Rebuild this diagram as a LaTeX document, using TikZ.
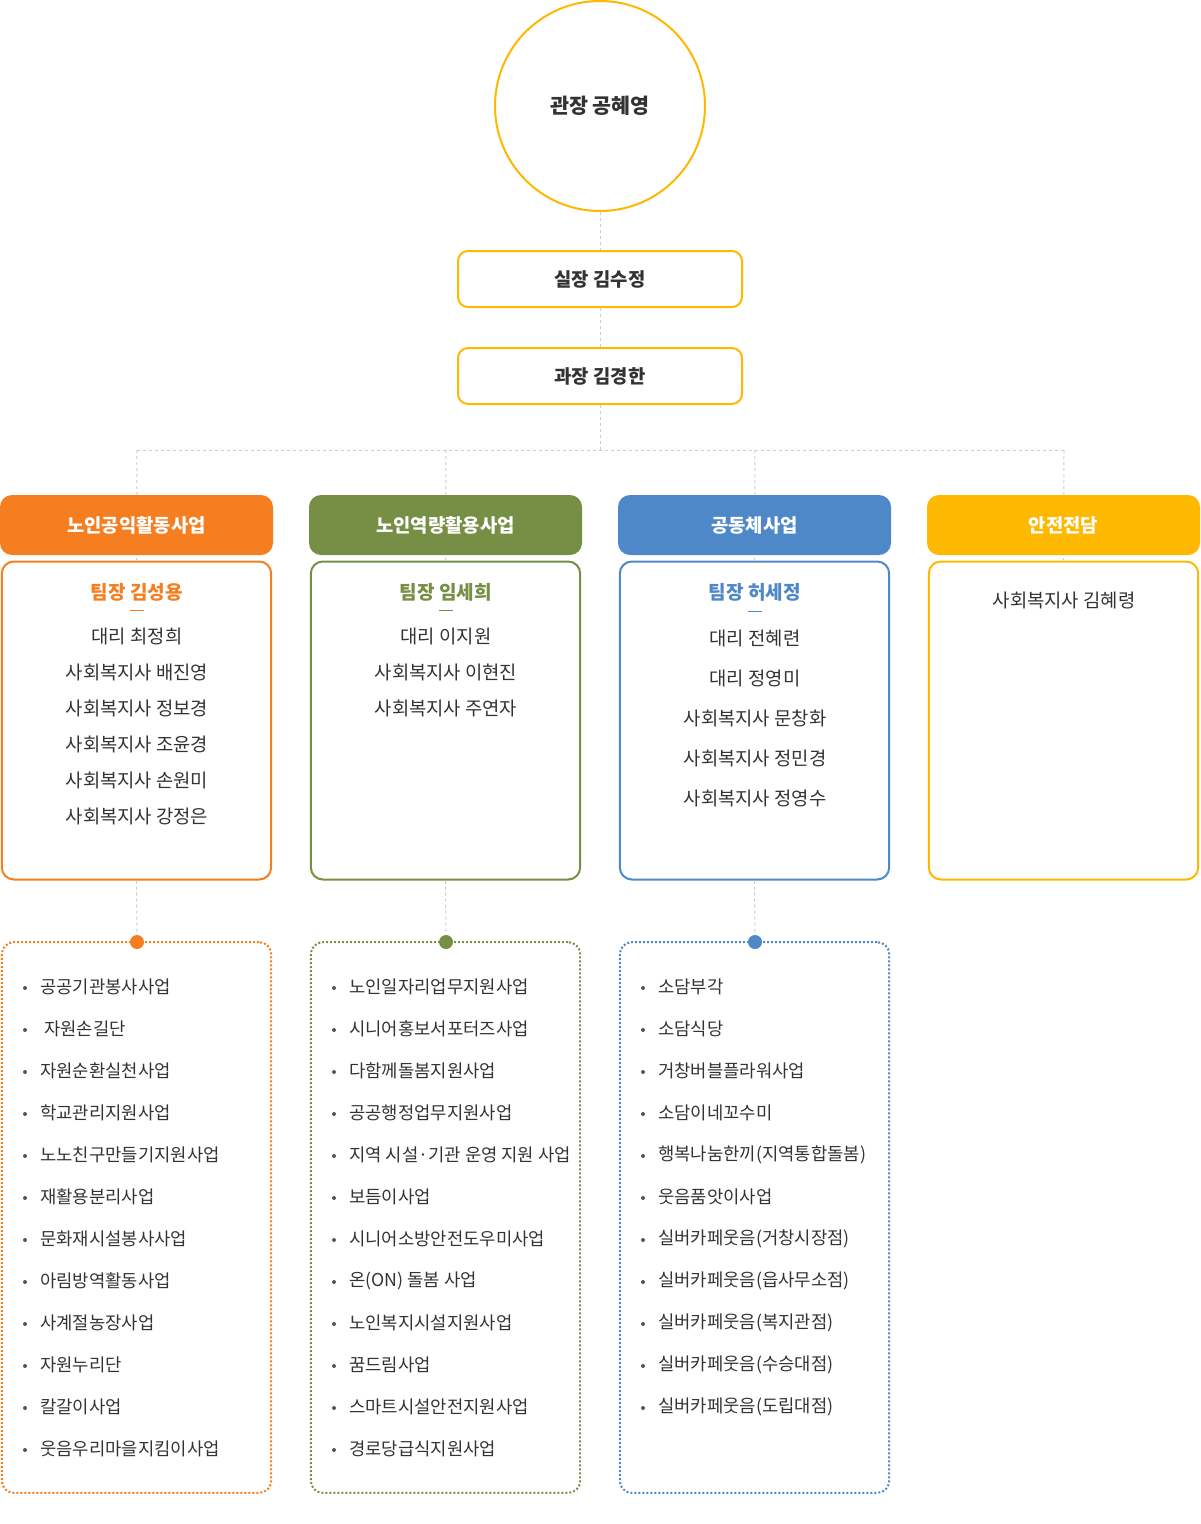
\documentclass[tikz,border=0pt]{standalone}
\usepackage{fontspec}
\setmainfont{Noto Sans CJK KR}
\definecolor{cyel}{HTML}{FFB800}
\definecolor{cora}{HTML}{F47E20}
\definecolor{cgrn}{HTML}{768F45}
\definecolor{cblu}{HTML}{4F88C8}
\definecolor{ctxt}{HTML}{333333}
\definecolor{cline}{HTML}{CCCCCC}
\definecolor{cbul}{HTML}{555555}
\begin{document}
\begin{tikzpicture}[x=0.75pt,y=-0.75pt,
  conn/.style={draw=cline,line width=0.75pt,dash pattern=on 2.25pt off 2.25pt},
  topbox/.style={draw=cyel,line width=1.5pt,rounded corners=7.5pt,fill=white,minimum width=213pt,minimum height=42pt,inner sep=0,text=ctxt,font=\fontsize{14.1pt}{16pt}\selectfont\bfseries},
  head/.style={fill=#1,rounded corners=9pt,minimum width=204.75pt,minimum height=45pt,inner sep=0,text=white,font=\fontsize{14.1pt}{16pt}\selectfont\bfseries},
  teambox/.style={draw=#1,line width=1.5pt,rounded corners=9pt,minimum width=202pt,minimum height=238.5pt,inner sep=0},
  listbox/.style={draw=#1,line width=1.5pt,dash pattern=on 1.5pt off 1.5pt,rounded corners=9pt,minimum width=202pt,minimum height=413pt,inner sep=0},
  dotn/.style={circle,fill=#1,inner sep=0,minimum size=10.5pt},
  ttl/.style={text=#1,inner sep=0,font=\fontsize{14.3pt}{16pt}\selectfont\bfseries},
  mem/.style={text=ctxt,inner sep=0,font=\fontsize{14.1pt}{16pt}\selectfont},
  item/.style={text=ctxt,inner sep=0,anchor=west,font=\fontsize{13.3pt}{15pt}\selectfont},
]
\useasboundingbox (0,0) rectangle (1200,1524);
% coordinates for connectors
\coordinate (hub) at (600,450);
\coordinate (h1) at (137,450);
\coordinate (h2) at (446,450);
\coordinate (h3) at (755,450);
\coordinate (h4) at (1064,450);
% top nodes
\node[circle,draw=cyel,line width=1.5pt,minimum size=157.5pt,inner sep=0,text=ctxt,font=\fontsize{15.5pt}{17pt}\selectfont\bfseries] (chief) at (600,106) {관장 공혜영};
\node[topbox] (sil) at (600,279) {실장 김수정};
\node[topbox] (gwa) at (600,376) {과장 김경한};
% team boxes
\node[teambox=cora] (t1) at (136.5,720.5) {};
\node[teambox=cgrn] (t2) at (445.5,720.5) {};
\node[teambox=cblu] (t3) at (754.5,720.5) {};
\node[teambox=cyel] (t4) at (1063.5,720.5) {};
% connectors
\draw[conn] (chief.south) -- (sil.north);
\draw[conn] (sil.south) -- (gwa.north);
\draw[conn] (gwa.south) -- (hub);
\draw[conn] (h1) -- (h4);
\draw[conn] (h1) -- (t1.north);
\draw[conn] (h2) -- (t2.north);
\draw[conn] (h3) -- (t3.north);
\draw[conn] (h4) -- (t4.north);
% headers
\node[head=cora] (hd1) at (136.5,525) {노인공익활동사업};
\node[head=cgrn] (hd2) at (445.5,525) {노인역량활용사업};
\node[head=cblu] (hd3) at (754.5,525) {공동체사업};
\node[head=cyel] (hd4) at (1063.5,525) {안전전담};
% team 1
\node[ttl=cora] (t1a) at (137,592) {팀장 김성용};
\draw[cora,line width=0.75pt] (130,610) -- (144,610);
\foreach [count=\i] \t in {대리 최정희,사회복지사 배진영,사회복지사 정보경,사회복지사 조윤경,사회복지사 손원미,사회복지사 강정은}
  \node[mem] (t1m\i) at ({137},{636+36*(\i-1)}) {\t};
% team 2
\node[ttl=cgrn] (t2a) at (446,592) {팀장 임세희};
\draw[cgrn,line width=0.75pt] (439,610) -- (453,610);
\foreach [count=\i] \t in {대리 이지원,사회복지사 이현진,사회복지사 주연자}
  \node[mem] (t2m\i) at ({446},{636+36*(\i-1)}) {\t};
% team 3
\node[ttl=cblu] (t3a) at (755,592) {팀장 허세정};
\draw[cblu,line width=0.75pt] (748,611) -- (762,611);
\foreach [count=\i] \t in {대리 전혜련,대리 정영미,사회복지사 문창화,사회복지사 정민경,사회복지사 정영수}
  \node[mem] (t3m\i) at ({755},{638+40*(\i-1)}) {\t};
% team 4
\node[mem] (t4m1) at (1064,600) {사회복지사 김혜령};
% list boxes
\node[listbox=cora] (l1) at (136.5,1217.5) {};
\node[listbox=cgrn] (l2) at (445.5,1217.5) {};
\node[listbox=cblu] (l3) at (754.5,1217.5) {};
\node[dotn=cora] (d1) at (137,942) {};
\node[dotn=cgrn] (d2) at (446,942) {};
\node[dotn=cblu] (d3) at (755,942) {};
\draw[conn] (t1.south) -- (d1.north);
\draw[conn] (t2.south) -- (d2.north);
\draw[conn] (t3.south) -- (d3.north);
% list 1
\foreach [count=\i] \t in {공공기관봉사사업,{\hspace{3pt}자원손길단},자원순환실천사업,학교관리지원사업,노노친구만들기지원사업,재활용분리사업,문화재시설봉사사업,아림방역활동사업,사계절농장사업,자원누리단,칼갈이사업,웃음우리마을지킴이사업}{
  \node[item] (o\i) at ({40},{987+42*(\i-1)}) {\t};
  \fill[cbul] ({25},{988+42*(\i-1)}) circle (1.5pt);
}
% list 2
\foreach [count=\i] \t in {노인일자리업무지원사업,시니어홍보서포터즈사업,다함께돌봄지원사업,공공행정업무지원사업,지역 시설·기관 운영 지원 사업,보듬이사업,시니어소방안전도우미사업,온(ON) 돌봄 사업,노인복지시설지원사업,꿈드림사업,스마트시설안전지원사업,경로당급식지원사업}{
  \node[item] (g\i) at ({349},{987+42*(\i-1)}) {\t};
  \fill[cbul] ({334},{988+42*(\i-1)}) circle (1.5pt);
}
% list 3
\foreach [count=\i] \t in {소담부각,소담식당,거창버블플라워사업,소담이네꼬수미,행복나눔한끼(지역통합돌봄),웃음품앗이사업,실버카페웃음(거창시장점),실버카페웃음(읍사무소점),실버카페웃음(복지관점),실버카페웃음(수승대점),실버카페웃음(도립대점)}{
  \node[item] (b\i) at ({658},{987+42*(\i-1)}) {\t};
  \fill[cbul] ({643},{988+42*(\i-1)}) circle (1.5pt);
}
\end{tikzpicture}
\end{document}
